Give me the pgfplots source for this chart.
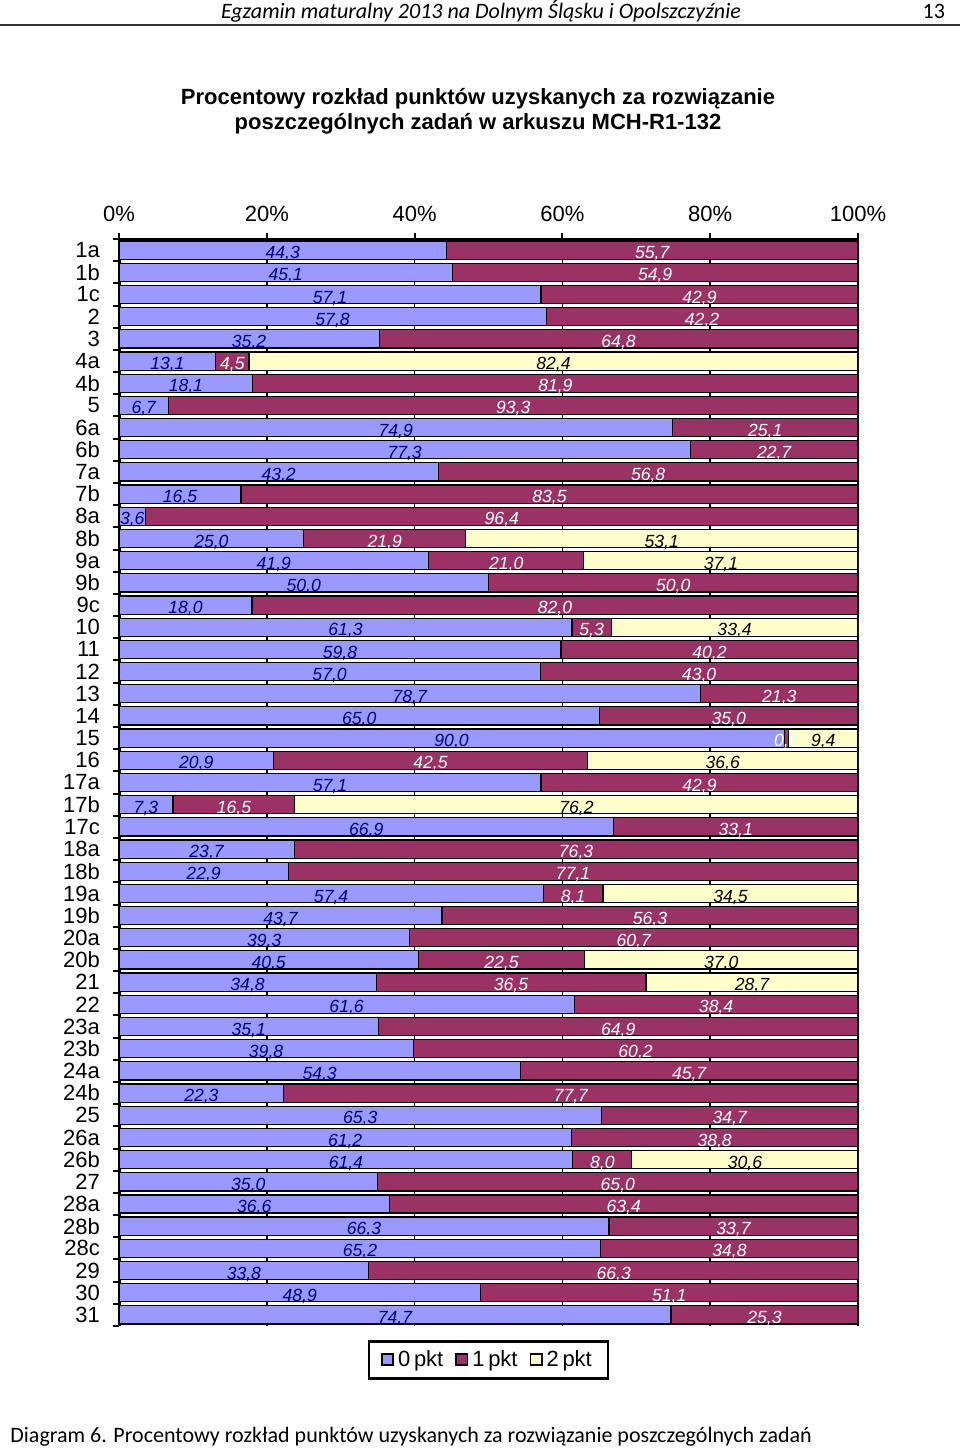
\documentclass[border=0pt]{standalone}
\usepackage{fontspec}
\setmainfont{Liberation Sans}
\newfontfamily\carlito{Carlito}
\usepackage{pgfplots}
\usepackage{pgfplotstable}
\pgfplotsset{compat=1.18}
\definecolor{c0}{HTML}{9999FF}
\definecolor{c1}{HTML}{993366}
\definecolor{c2}{HTML}{FFFFCC}
\definecolor{navy}{HTML}{000080}

\pgfplotstableread{
row name p0 p1 p2
0 1a 44.3 55.7 0
1 1b 45.1 54.9 0
2 1c 57.1 42.9 0
3 2 57.8 42.2 0
4 3 35.2 64.8 0
5 4a 13.1 4.5 82.4
6 4b 18.1 81.9 0
7 5 6.7 93.3 0
8 6a 74.9 25.1 0
9 6b 77.3 22.7 0
10 7a 43.2 56.8 0
11 7b 16.5 83.5 0
12 8a 3.6 96.4 0
13 8b 25.0 21.9 53.1
14 9a 41.9 21.0 37.1
15 9b 50.0 50.0 0
16 9c 18.0 82.0 0
17 10 61.3 5.3 33.4
18 11 59.8 40.2 0
19 12 57.0 43.0 0
20 13 78.7 21.3 0
21 14 65.0 35.0 0
22 15 90.0 0.6 9.4
23 16 20.9 42.5 36.6
24 17a 57.1 42.9 0
25 17b 7.3 16.5 76.2
26 17c 66.9 33.1 0
27 18a 23.7 76.3 0
28 18b 22.9 77.1 0
29 19a 57.4 8.1 34.5
30 19b 43.7 56.3 0
31 20a 39.3 60.7 0
32 20b 40.5 22.5 37.0
33 21 34.8 36.5 28.7
34 22 61.6 38.4 0
35 23a 35.1 64.9 0
36 23b 39.8 60.2 0
37 24a 54.3 45.7 0
38 24b 22.3 77.7 0
39 25 65.3 34.7 0
40 26a 61.2 38.8 0
41 26b 61.4 8.0 30.6
42 27 35.0 65.0 0
43 28a 36.6 63.4 0
44 28b 66.3 33.7 0
45 28c 65.2 34.8 0
46 29 33.8 66.3 0
47 30 48.9 51.1 0
48 31 74.7 25.3 0
}\data

\pgfplotsset{
  commonaxis/.style={
    at={(59.5pt,62pt)}, anchor=south west,
    width=369.5pt, height=543.5pt, scale only axis,
    xmin=0, xmax=100, ymin=-0.5, ymax=48.5, y dir=reverse,
  },
  lbl/.style={
    draw=none, mark=none, nodes near coords={\pgfmathprintnumber[assume math mode=true,use comma,fixed,fixed zerofill,precision=1]{\pgfplotspointmeta}},
    point meta=explicit,
    every node near coord/.append style={anchor=base, yshift=-4.3pt, inner sep=0pt,
      font=\itshape\fontsize{8.8}{10}\selectfont, text=#1},
  },
}

\begin{document}
\begin{tikzpicture}
\useasboundingbox (0,0) rectangle (480pt,725pt);
% header
\node[anchor=base, font=\carlito\itshape\fontsize{11}{13}\selectfont] at (240.5pt,715.5pt) {Egzamin maturalny 2013 na Dolnym Śląsku i Opolszczyźnie};
\node[anchor=base east, font=\carlito\fontsize{11}{13}\selectfont] at (476pt,715.5pt) {13};
\draw[line width=1pt, black!80] (0pt,712.3pt) -- (480pt,712.3pt);
% title
\node[anchor=base, font=\bfseries\fontsize{11}{13}\selectfont] at (239pt,672.5pt) {Procentowy rozkład punktów uzyskanych za rozwiązanie};
\node[anchor=base, font=\bfseries\fontsize{11}{13}\selectfont] at (239pt,660pt) {poszczególnych zadań w arkuszu MCH-R1-132};
% footer
\node[anchor=base west, inner sep=0pt, font=\carlito\fontsize{11}{13}\selectfont] at (5pt,3.5pt) {Diagram 6. Procentowy rozkład punktów uzyskanych za rozwiązanie poszczególnych zadań};

\begin{axis}[
  commonaxis,
  xbar stacked, bar width=0.82,
  axis x line*=top, axis y line*=left,
  axis line style={line width=1.5pt, -},
  xtick={0,20,...,100},
  xticklabel={\pgfmathprintnumber{\tick}\%},
  xmajorgrids, grid style={black, line width=0.8pt},
  ytick={-0.5,0.5,...,48.5},
  y tick label as interval,
  yticklabels from table={\data}{name},
  tick align=outside, major tick length=3pt,
  tick style={black, line width=1pt},
  ticklabel style={font=\fontsize{11}{13}\selectfont},
  xticklabel style={yshift=2pt},
  yticklabel style={xshift=-3pt},
  /pgf/number format/assume math mode=true,
  legend style={at={(0.5,0)}, yshift=-7pt, anchor=north, legend columns=3,
    draw=black, line width=1.3pt, font=\fontsize{11}{13}\selectfont,
    inner xsep=6pt, inner ysep=2.5pt,
    /tikz/every even column/.append style={column sep=4pt}},
  legend image code/.code={\draw[#1, draw=black, line width=0.9pt] (0pt,-2.8pt) rectangle (5.6pt,2.8pt);},
]
\addplot[fill=c0, draw=black, line width=0.6pt] table[x=p0, y=row]{\data};
\addplot[fill=c1, draw=black, line width=0.6pt] table[x=p1, y=row]{\data};
\addplot[fill=c2, draw=black, line width=0.6pt] table[x=p2, y=row]{\data};
\legend{0\,pkt, 1\,pkt, 2\,pkt}
\end{axis}

\begin{axis}[commonaxis, hide axis, clip=false]
\addplot[lbl=navy, restrict expr to domain={\thisrow{p0}}{0.05:1000}]
  table[x expr=\thisrow{p0}/2, y=row, meta=p0]{\data};
\addplot[lbl=white, restrict expr to domain={\thisrow{p1}}{0.05:1000}]
  table[x expr=\thisrow{p0}+\thisrow{p1}/2, y=row, meta=p1]{\data};
\addplot[lbl=black, restrict expr to domain={\thisrow{p2}}{0.05:1000}]
  table[x expr=\thisrow{p0}+\thisrow{p1}+\thisrow{p2}/2, y=row, meta=p2]{\data};
\end{axis}
\end{tikzpicture}
\end{document}
